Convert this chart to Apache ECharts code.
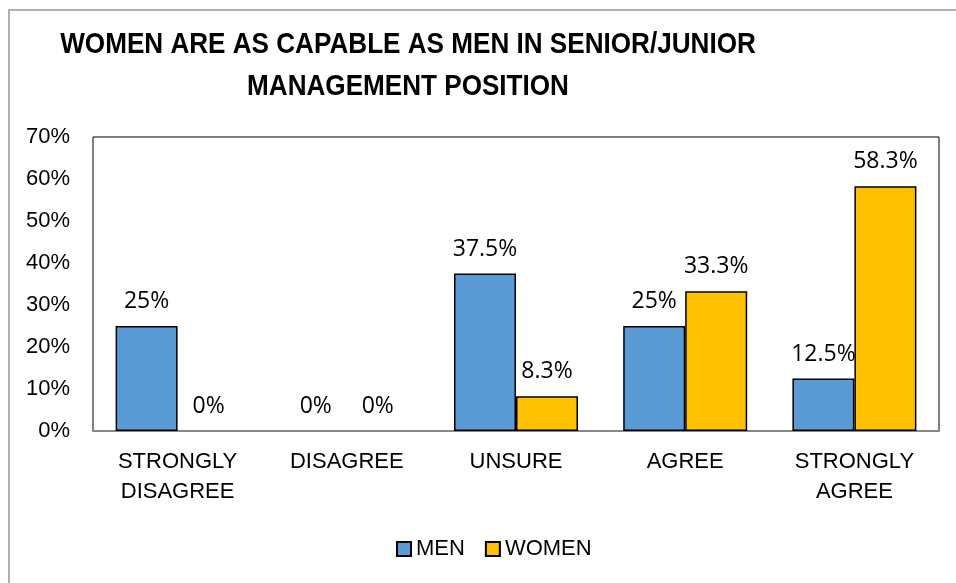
<!DOCTYPE html>
<html>
<head>
<meta charset="utf-8">
<script src="https://cdn.jsdelivr.net/npm/echarts@6/dist/echarts.min.js"></script>
<style>
  html, body { margin: 0; padding: 0; background: #fff; }
  #chart { width: 956px; height: 583px; }
</style>
</head>
<body>
<div id="chart"></div>
<script>
  const categories = ["STRONGLY\nDISAGREE", "DISAGREE", "UNSURE", "AGREE", "STRONGLY\nAGREE"];
  const men = [0.25, 0, 0.375, 0.25, 0.125];
  const women = [0, 0, 0.083, 0.333, 0.583];
  const yTicks = [0, 0.1, 0.2, 0.3, 0.4, 0.5, 0.6, 0.7];
  const titleLines = ["WOMEN ARE AS CAPABLE AS MEN IN SENIOR/JUNIOR", "MANAGEMENT POSITION"];

  function pct(v) {
    return +(v * 100).toFixed(1) + "%";
  }

  // zero bars get no outline, otherwise a black line sits on the grey axis
  function toItems(arr) {
    return arr.map(v => (v === 0 ? { value: v, itemStyle: { borderWidth: 0 } } : v));
  }

  const chart = echarts.init(document.getElementById("chart"));

  const labelStyle = {
    show: true,
    position: "top",
    distance: 13,
    fontFamily: "Open Sans",
    fontSize: 23,
    color: "#000",
    formatter: p => pct(p.value)
  };

  const option = {
    animation: false,
    graphic: [
      {
        type: "rect",
        shape: { x: 9, y: 10, width: 960, height: 600 },
        style: { fill: "none", stroke: "#b0b0b0", lineWidth: 2 },
        silent: true
      },
      {
        // condensed bold title: Arial-like bold squeezed horizontally
        type: "text",
        x: 408,
        y: 24,
        scaleX: 0.87,
        style: {
          text: titleLines.join("\n"),
          font: "bold 30px 'Liberation Sans'",
          lineHeight: 42,
          align: "center",
          verticalAlign: "top",
          fill: "#000"
        },
        silent: true
      }
    ],
    legend: {
      data: ["MEN", "WOMEN"],
      left: 391,
      top: 533,
      itemWidth: 14,
      itemHeight: 14,
      itemGap: 20,
      icon: "rect",
      textStyle: {
        fontFamily: "Liberation Sans",
        fontSize: 22,
        color: "#000"
      }
    },
    grid: {
      left: 93,
      right: 17,
      top: 137,
      bottom: 152,
      show: true,
      borderColor: "#000",
      borderWidth: 1
    },
    xAxis: {
      type: "category",
      data: categories,
      axisLine: { show: true, lineStyle: { color: "#888", width: 2 } },
      axisTick: { show: false },
      axisLabel: {
        fontFamily: "Liberation Sans",
        fontSize: 22,
        lineHeight: 30,
        color: "#000",
        margin: 16
      }
    },
    yAxis: {
      type: "value",
      min: yTicks[0],
      max: yTicks[yTicks.length - 1],
      interval: 0.1,
      splitLine: { show: false },
      axisLine: { show: false },
      axisTick: { show: false },
      axisLabel: {
        fontFamily: "Liberation Sans",
        fontSize: 22,
        color: "#000",
        margin: 23,
        formatter: v => pct(v)
      }
    },
    series: [
      {
        name: "MEN",
        type: "bar",
        data: toItems(men),
        barWidth: 62,
        barGap: "0%",
        itemStyle: { color: "#5B9BD5", borderColor: "#000", borderWidth: 1.5 },
        label: labelStyle
      },
      {
        name: "WOMEN",
        type: "bar",
        data: toItems(women),
        barWidth: 62,
        barGap: "0%",
        itemStyle: { color: "#FFC000", borderColor: "#000", borderWidth: 1.5 },
        label: labelStyle
      }
    ]
  };

  chart.setOption(option);
</script>
</body>
</html>
